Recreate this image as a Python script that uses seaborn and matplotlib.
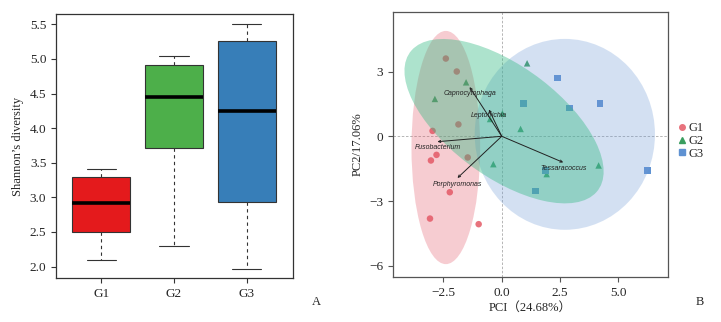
import numpy as np
import pandas as pd
import seaborn as sns
import matplotlib.pyplot as plt
from matplotlib.patches import Ellipse
from matplotlib.lines import Line2D

# === Dados ===
groups = ['G1', 'G2', 'G3']
box_colors = ['#E41A1C', '#4DAF4A', '#377EB8']

# resumo: min, Q1, mediana, Q3, max
shannon_g1 = [2.10, 2.50, 2.92, 3.29, 3.41]
shannon_g2 = [2.29, 3.72, 4.45, 4.92, 5.05]
shannon_g3 = [1.97, 2.93, 4.25, 5.26, 5.51]

# PCA - amostras
pc1_g1 = [-2.40, -1.93, -1.86, -2.97, -1.46, -2.80, -3.04, -2.23, -3.08, -0.99]
pc2_g1 = [3.60, 3.00, 0.55, 0.25, -0.98, -0.86, -1.12, -2.59, -3.81, -4.07]
pc1_g2 = [1.09, -1.53, -2.87, 0.03, -0.50, 0.81, -0.36, 1.93, 4.16]
pc2_g2 = [3.38, 2.50, 1.73, 1.06, 0.80, 0.34, -1.29, -1.75, -1.35]
pc1_g3 = [2.39, 0.94, 2.91, 4.22, 1.89, 1.45, 6.26]
pc2_g3 = [2.70, 1.53, 1.30, 1.52, -1.58, -2.53, -1.58]

# elipses: centro x, centro y, largura, altura, ângulo
ell_g1 = [-2.40, -0.52, 2.95, 10.8, 0]
ell_g2 = [0.10, 0.70, 10.3, 5.0, -39.6]
ell_g3 = [2.71, 0.09, 7.74, 8.84, 0]

# vetores de táxons
taxa = ['Capnocytophaga', 'Leptotrichia', 'Fusobacterium', 'Porphyromonas', 'Tessaracoccus']
taxa_x = [-1.38, -0.55, -2.76, -1.90, 2.64]
taxa_y = [2.28, 1.24, -0.25, -1.93, -1.21]

point_colors = ['#E8737D', '#3A9E5F', '#5F92D2']
fill_colors = ['#E45869', '#32B982', '#709BD7']
fill_alpha = [0.3, 0.4, 0.3]

sns.set_style('ticks')
plt.rcParams['font.family'] = ['Liberation Serif', 'Noto Sans CJK SC']

fig = plt.figure(figsize=(7.21, 3.22), dpi=100)

# === Painel A: boxplot ===
ax1 = fig.add_axes([0.0777, 0.1357, 0.3283, 0.8208])
df_box = pd.DataFrame({
    'grupo': np.repeat(groups, 5),
    'valor': shannon_g1 + shannon_g2 + shannon_g3,
})
sns.boxplot(data=df_box, x='grupo', y='valor', hue='grupo', palette=box_colors,
            saturation=1, width=0.8, linewidth=0.8, linecolor='#333333',
            whis=1.5, ax=ax1, legend=False,
            whiskerprops={'linestyle': (0, (3, 3)), 'color': '#333333'},
            medianprops={'color': 'black', 'linewidth': 2.6},
            capprops={'color': '#333333'})
ax1.set_xlim(-0.62, 2.63)
ax1.set_ylim(1.83, 5.65)
ax1.set_yticks([2.0, 2.5, 3.0, 3.5, 4.0, 4.5, 5.0, 5.5])
ax1.set_yticklabels(['2.0', '2.5', '3.0', '3.5', '4.0', '4.5', '5.0', '5.5'])
ax1.set_xlabel('')
ax1.set_ylabel('Shannon’s diversity', fontsize=9)
ax1.tick_params(axis='both', labelsize=9.5, length=3.5, width=0.8, color='#333333',
                direction='out')
for s in ax1.spines.values():
    s.set_color('#333333')
    s.set_linewidth(0.9)
fig.text(0.432, 0.052, 'A', fontsize=9)

# === Painel B: PCA ===
ax2 = fig.add_axes([0.5447, 0.1388, 0.3818, 0.8249])
df_pca = pd.DataFrame({
    'PC1': pc1_g1 + pc1_g2 + pc1_g3,
    'PC2': pc2_g1 + pc2_g2 + pc2_g3,
    'grupo': ['G1'] * len(pc1_g1) + ['G2'] * len(pc1_g2) + ['G3'] * len(pc1_g3),
})
ax2.axhline(0, color='#AAAAAA', linestyle=(0, (3, 2)), linewidth=0.6, zorder=1)
ax2.axvline(0, color='#AAAAAA', linestyle=(0, (3, 2)), linewidth=0.6, zorder=1)
sns.scatterplot(data=df_pca, x='PC1', y='PC2', hue='grupo', style='grupo',
                palette=point_colors, markers={'G1': 'o', 'G2': '^', 'G3': 's'},
                s=22, linewidth=0, ax=ax2, legend=False, zorder=2)

for ell, c, a in zip([ell_g1, ell_g3, ell_g2], [fill_colors[0], fill_colors[2], fill_colors[1]],
                     [fill_alpha[0], fill_alpha[2], fill_alpha[1]]):
    ax2.add_patch(Ellipse((ell[0], ell[1]), ell[2], ell[3], angle=ell[4],
                          facecolor=c, edgecolor='none', alpha=a, zorder=3))

for name, tx, ty in zip(taxa, taxa_x, taxa_y):
    ax2.annotate('', xy=(tx, ty), xytext=(0, 0),
                 arrowprops=dict(arrowstyle='->', color='#222222', lw=0.7,
                                 mutation_scale=4, shrinkA=0, shrinkB=0), zorder=4)
    ax2.text(tx, ty - 0.12, name, fontsize=5, style='italic', family='Liberation Sans',
             color='#222222', ha='center', va='top', zorder=5)

ax2.set_xlim(-4.68, 7.14)
ax2.set_ylim(-6.53, 5.77)
ax2.set_xticks([-2.5, 0, 2.5, 5.0])
ax2.set_yticks([-6, -3, 0, 3])
ax2.set_xlabel('PCI（24.68%）', fontsize=9, labelpad=2)
ax2.set_ylabel('PC2/17.06%', fontsize=9)
ax2.tick_params(axis='both', labelsize=9.5, length=3.5, width=0.8, color='#555555',
                direction='out')
for s in ax2.spines.values():
    s.set_color('#555555')
    s.set_linewidth(0.9)

handles = [Line2D([], [], marker=m, color=c, linestyle='none', markersize=4)
           for m, c in zip(['o', '^', 's'], point_colors)]
ax2.legend(handles, groups, loc='center left', bbox_to_anchor=(1.0, 0.513),
           frameon=False, fontsize=9, handletextpad=0.1, labelspacing=0.05,
           handlelength=0.8, borderaxespad=0.3)
fig.text(0.965, 0.052, 'B', fontsize=9)

plt.savefig('out.png', dpi=100)
plt.close()
